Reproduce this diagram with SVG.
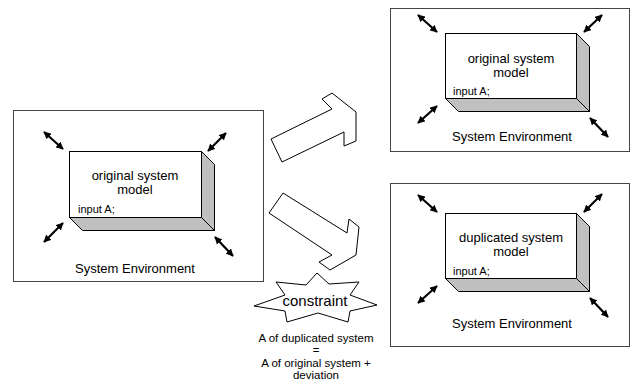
<svg xmlns="http://www.w3.org/2000/svg" width="641" height="392" viewBox="0 0 641 392">
<defs>
<marker id="ah" viewBox="0 0 10 10" refX="9" refY="5" markerWidth="3.4" markerHeight="3.4" orient="auto-start-reverse" markerUnits="strokeWidth"><path d="M0,0 L10,5 L0,10 z" fill="#000"/></marker>
</defs>
<style>
.env{fill:#fff;stroke:#444;stroke-width:1}
.front{fill:#fff;stroke:#000;stroke-width:1}
.side{fill:#c0c0c0;stroke:#000;stroke-width:1;stroke-linejoin:round}
.blk{fill:#fff;stroke:#000;stroke-width:1;stroke-linejoin:miter}
.dbl{stroke:#000;stroke-width:2.2;fill:none;marker-start:url(#ah);marker-end:url(#ah)}
text{font-family:"Liberation Sans",Arial,sans-serif;fill:#000}
.lbl{font-size:13px;text-anchor:middle}
.inp{font-size:11px}
.con{font-size:15px;text-anchor:middle}
.note{font-size:11.5px;text-anchor:middle}
</style>
<g id="env-left">
<rect class="env" x="13.5" y="110.5" width="250" height="171"/>
<rect class="front" x="69.5" y="151.5" width="132" height="66"/>
<polygon class="side" points="201.5,151.5 214.5,164.5 214.5,230.5 201.5,217.5"/>
<polygon class="side" points="69.5,217.5 201.5,217.5 214.5,230.5 82.5,230.5"/>
<text class="lbl" x="135" y="180">original system</text>
<text class="lbl" x="135" y="194">model</text>
<text class="inp" x="78" y="213">input A;</text>
<text class="lbl" x="135" y="273">System Environment</text>
<line class="dbl" x1="44" y1="132" x2="63" y2="149"/>
<line class="dbl" x1="208" y1="151" x2="226" y2="133"/>
<line class="dbl" x1="44" y1="242" x2="63" y2="223"/>
<line class="dbl" x1="215" y1="237" x2="233" y2="256"/>
</g>
<g id="env-top">
<rect class="env" x="390.5" y="8.5" width="239" height="143"/>
<rect class="front" x="445.5" y="33.5" width="131" height="65"/>
<polygon class="side" points="576.5,33.5 589.5,46.5 589.5,111.5 576.5,98.5"/>
<polygon class="side" points="445.5,98.5 576.5,98.5 589.5,111.5 458.5,111.5"/>
<text class="lbl" x="511" y="63">original system</text>
<text class="lbl" x="511" y="77">model</text>
<text class="inp" x="453" y="95">input A;</text>
<text class="lbl" x="512" y="141">System Environment</text>
<line class="dbl" x1="418" y1="15" x2="437" y2="32"/>
<line class="dbl" x1="584" y1="32" x2="602" y2="15"/>
<line class="dbl" x1="418" y1="123" x2="437" y2="106"/>
<line class="dbl" x1="590" y1="118" x2="608" y2="137"/>
</g>
<g id="env-bottom">
<rect class="env" x="390.5" y="183.5" width="239" height="163"/>
<rect class="front" x="445.5" y="213.5" width="131" height="65"/>
<polygon class="side" points="576.5,213.5 589.5,226.5 589.5,291.5 576.5,278.5"/>
<polygon class="side" points="445.5,278.5 576.5,278.5 589.5,291.5 458.5,291.5"/>
<text class="lbl" x="511" y="242">duplicated system</text>
<text class="lbl" x="511" y="256">model</text>
<text class="inp" x="453" y="275">input A;</text>
<text class="lbl" x="512" y="328">System Environment</text>
<line class="dbl" x1="418" y1="195" x2="437" y2="212"/>
<line class="dbl" x1="584" y1="212" x2="602" y2="194"/>
<line class="dbl" x1="418" y1="303" x2="437" y2="286"/>
<line class="dbl" x1="590" y1="298" x2="608" y2="317"/>
</g>
<g id="connectors">
<polygon class="blk" points="271,139 332,109 322,99 332,93 356,112 356,141 344,146 344,132 282,162"/>
<polygon class="blk" points="269,213 283,193 347,233 349,219 359,227 356,255 330,270 319,262 332,255"/>
</g>
<g id="constraint">
<polygon class="blk" points="317,273 329,284 359,282 350,295 377,305 350,311 348,322 318,313 287,322 285,311 254,306 285,295 276,282 306,285"/>
<text class="con" x="315" y="306">constraint</text>
<text class="note" x="316" y="341.5">A of duplicated system</text>
<text class="note" x="316" y="354">=</text>
<text class="note" x="316" y="366.5">A of original system +</text>
<text class="note" x="316" y="379">deviation</text>
</g>
</svg>
